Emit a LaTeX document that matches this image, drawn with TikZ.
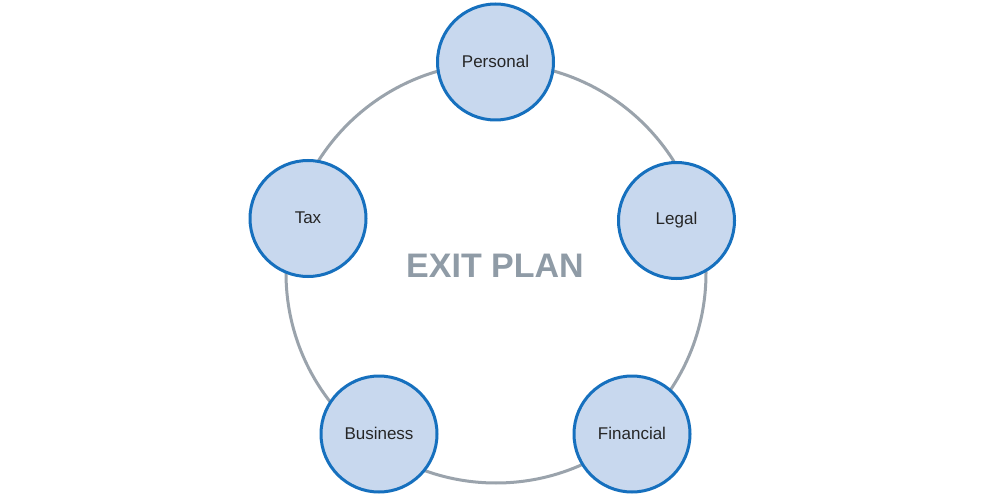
\documentclass[tikz,border=0pt]{standalone}
\usepackage{fontspec}
\setmainfont{Liberation Sans}
\definecolor{ringgray}{HTML}{9AA3AC}
\definecolor{nodefill}{HTML}{C8D8EE}
\definecolor{nodeedge}{HTML}{1670BE}
\definecolor{titlegray}{HTML}{8F9BA6}
\tikzset{
  topic/.style={circle, draw=nodeedge, fill=nodefill, line width=3pt, minimum size=116pt, inner sep=0pt, font=\fontsize{17}{19}\selectfont, text=black!85},
  ring/.style={draw=ringgray, line width=3pt}
}
\begin{document}
\begin{tikzpicture}[x=1pt,y=-1pt]
\useasboundingbox (0,0) rectangle (994,500);
\fill[white] (0,0) rectangle (994,500);
\coordinate (c) at (496,273);
\draw[ring] (c) circle[radius=210];
\node[font=\bfseries\fontsize{34}{40}\selectfont, text=titlegray] (title) at (495,266) {EXIT PLAN};
\node[topic] (personal) at (495.5,62) {\raisebox{2pt}{Personal}};
\node[topic] (legal) at (676.5,220.5) {\raisebox{2pt}{Legal}};
\node[topic] (tax) at (308,218.5) {\raisebox{1pt}{Tax}};
\node[topic] (business) at (379,434) {\raisebox{1pt}{Business}};
\node[topic] (financial) at (632,434) {\raisebox{1pt}{Financial}};
\end{tikzpicture}
\end{document}
